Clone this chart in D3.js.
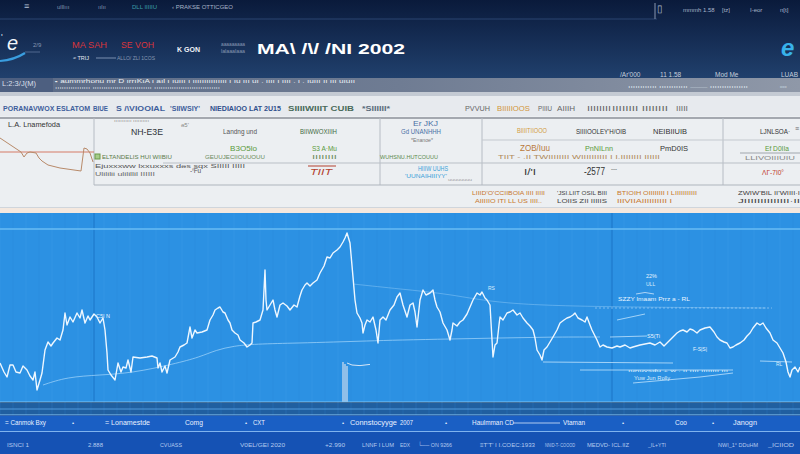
<!DOCTYPE html>
<html>
<head>
<meta charset="utf-8">
<script src="https://cdn.jsdelivr.net/npm/d3@7"></script>
<style>
body { margin: 0; background: #0c1e42; }
svg { display: block; font-family: "Liberation Sans", Arial, sans-serif; }
</style>
</head>
<body>
<svg id="chart" width="800" height="454"></svg>
<script>
// ---- data ----

// main price line: [session, close]
var closeSeries = [
  [0,1795],[2,1750],[3.5,1725],[5,1785],[6.5,1785],[8,1750],[10,1745],[11.5,1780],[13.5,1760],[15,1730],
  [16.5,1710],[17.5,1750],[18.5,1660],[20,1710],[21,1745],[22.5,1860],[24,1900],[25.5,1880],[26.5,1895],[28.5,1920],
  [30,1910],[31.5,1960],[32.5,2045],[33.5,1985],[35,2025],[36.5,2000],[38.5,2045],[40,2020],[41,2060],[42.5,1995],
  [44,2030],[45,2010],[47,2040],[48.5,2025],[50,1995],[51.5,2020],[52.5,1960],[53.5,1845],[54,1760],[55.5,1735],
  [57.5,1710],[59,1795],[60.5,1750],[61.5,1775],[63,1770],[64,1810],[65.5,1750],[66.5,1825],[70,1820],[73.5,1825],
  [76,1830],[78.5,1820],[79,1770],[80,1795],[81,1750],[82.5,1780],[83.5,1745],[85,1810],[87.5,1825],[89,1850],
  [90,1875],[92,1885],[93.5,1895],[95,1975],[96,1920],[97.5,1960],[98.5,1945],[101,1950],[103.5,1960],[105,2010],
  [106.5,2035],[107.5,2060],[109,2070],[110,2075],[111.5,2050],[112.5,2045],[114,2010],[115,1995],[116,1960],[117.5,1945],
  [119,1935],[120,1910],[122,1895],[123.5,1875],[125,1885],[126,1895],[126.5,1995],[128,2000],[130,2010],[131.5,2060],
  [132.5,2260],[133,2110],[133.5,2060],[135,2085],[136.5,2110],[137.5,2060],[138.5,2025],[140,2085],[141.5,2095],[143.5,2080],
  [145,2060],[147,2085],[148.5,2075],[150,2130],[151,2160],[152.5,2185],[153.5,2195],[155,2180],[156.5,2195],[158.5,2210],
  [160,2245],[162,2280],[163.5,2325],[165,2320],[166.5,2345],[168.5,2360],[170,2375],[171.5,2400],[172.5,2420],[173.5,2445],
  [175,2395],[176.5,2225],[177.5,2110],[178.5,2045],[180,2020],[181,1995],[181.5,1945],[182.5,1985],[183.5,2010],[185,2000],
  [186.5,2025],[188,1960],[189,1895],[190,2010],[191.5,2025],[193,2010],[195,2060],[197,2085],[198.5,2125],[200,2145],
  [201.5,2085],[202.5,2055],[203.5,2025],[205,2085],[206.5,2095],[207.5,2050],[208.5,1975],[210,2110],[211.5,2160],[213,2135],
  [215,2145],[216.5,2160],[217.5,2110],[218.5,2075],[220,2050],[221.5,1995],[223.5,1960],[225,1910],[226,1960],[226.5,1995],
  [228.5,1980],[230,2000],[231.5,2010],[233.5,2040],[235,2075],[236.5,2110],[238.5,2145],[240,2135],[241,2150],[242.5,2120],
  [243.5,2110],[245,2085],[246.5,1825],[247.5,1885],[248.5,1895],[249.5,1985],[250,2025],[251.5,2010],[253.5,2045],[255,2050],
  [256.5,2060],[258.5,2035],[260,2045],[261.5,2020],[263.5,1995],[265,1980],[266.5,1960],[267.5,1920],[268.5,1860],[270,1835],
  [271,1810],[272,1860],[273.5,1875],[275,1900],[276.5,1925],[278.5,1960],[280,1995],[282,2010],[283.5,2020],[285,2025],
  [286.5,2035],[287.5,2045],[289,2020],[291,2010],[292.5,2000],[293.5,2025],[295,1985],[296,1960],[297.5,1930],[298.5,1910],
  [300,1875],[301.5,1885],[303.5,1875],[306,1870],[308.5,1880],[310,1875],[312.5,1885],[315,1870],[316.5,1875],[320,1885],
  [322.5,1890],[325,1895],[327.5,1885],[330,1900],[332,1880],[333.5,1895],[335,1910],[337,1930],[338.5,1945],[340,1955],
  [341.5,1960],[343.5,1950],[345,1965],[346.5,1960],[348.5,1945],[350,1960],[352.5,1970],[355,1975],[357,1950],[358.5,1925],
  [360,1910],[362,1900],[363.5,1895],[365,1870],[366.5,1875],[368,1885],[370,1895],[372,1910],[373.5,1930],[375,1945],
  [376.5,1970],[378.5,1995],[380,1985],[381.5,1995],[383,1970],[385,1945],[386.5,1910],[388.5,1895],[390,1870],[391.5,1845],
  [393,1800],[394,1750],[395,1725],[396,1760],[397.5,1775],[399,1750],[400,1775]
];

// slow average line
var avgSeries = [[21.5,1685],[33.5,1725],[50,1735],[66,1745],[87,1790],[100,1825],[108,1860],[117,1880],
  [127,1890],[150,1895],[167,1900],[183,1905],[200,1910],[225,1915],[250,1920],[275,1925],[300,1925]];

// faint upper trend line
var upperSeries = [[176.5,2190],[200,2165],[225,2140],[250,2090],[300,2075],[383,2070]];

// short level lines
var levelLines = [
  [[271.5,1800],[336.5,1795]],
  [[290,1760],[366.5,1760]],
  [[316.5,1695],[350,1725],[366.5,1745]],
  [[308.5,2010],[322.5,2040]],
  [[305,1925],[323.5,1930]],
  [[380,1805],[396,1800]]
];

// volume spike and small indicator
var volSpike = [[171.5,1800],[172.5,1790],[173.5,1780]];
var oscSeries = [[173.5,1795],[176,1785],[180,1782],[185,1788]];

// small chart in the table corner
var miniSeries = [[0,37],[3,31],[6,25],[7,23],[8,18],[9,22],[10,23],[12,22],[13,17],[14,14],
  [16,10],[20,7],[27,4],[28,27],[29,26],[30,22],[31,13]];
var miniRef = 23;

// texts
var topNav = ["\u2261", "ulllııı", "ıılıı", "DLL IIIIIU", "\u2039 PRAKSE OTTICGEO"];
var topRight = ["\u25af", "mmmh 1.58", "[tz]", "I-eor", "n[t]"];
var brandRed = ["MA SAH", "SE VOH"];
var titleText = "MA\\ /\\/ /NI 2002";
var infoRow = ["/Ar'000", "11 1.58", "Mod Me", "LUAB"];
var headRow = ["PORANAVWOX ESLATOM", "BIUE", "S /\\VIOOIAL", "'SIIWSIY'", "NIEDIAIOO LAT 2U15",
  "SIIIIWIIIT CUIB", "*SIIIIII*", "PVVUH", "BIIIIIOOS", "PIIIU", "AIIIH", "IIIIIIII", "IIIIIIII IIIIIIII", "IIIII"];
var footNames = ["= Canmok Bxy", "= Lonamestde", "Comg", "CXT", "Connstocyyge", "2007", "Haulmman CD", "Vtaman", "Coo", "Janogn"];
var footValues = ["ISNCI 1", "2.888", "CVUASS", "V0EL/GEI 2020", "+2.990", "LNNF I LUM", "EDX", "\u2514\u2500\u2500 ON 9266",
  "\u2261T'T' I I.COEC:1933", "NNID-T- COOOD", "MEDVD- ICL.IIZ", "_IL+YTI", "NWI_1\u00b0 DDuHM", "_ICIIOD"];

// ---- drawing ----
var svg = d3.select("#chart");
var defs = svg.append("defs");

function t(x, y, s, o) {
  o = o || {};
  var el = svg.append("text")
    .attr("x", x).attr("y", y)
    .attr("font-size", o.size || 7)
    .attr("fill", o.fill || "#333")
    .text(s);
  if (o.w) el.attr("textLength", o.w).attr("lengthAdjust", "spacingAndGlyphs");
  if (o.weight) el.attr("font-weight", o.weight);
  if (o.italic) el.attr("font-style", "italic");
  if (o.anchor) el.attr("text-anchor", o.anchor);
  if (o.op) el.attr("opacity", o.op);
  return el;
}
function hline(x1, x2, y, c, w) {
  svg.append("line").attr("x1", x1).attr("x2", x2).attr("y1", y).attr("y2", y)
    .attr("stroke", c).attr("stroke-width", w || 1);
}
function vline(x, y1, y2, c, w) {
  svg.append("line").attr("x1", x).attr("x2", x).attr("y1", y1).attr("y2", y2)
    .attr("stroke", c).attr("stroke-width", w || 1);
}

// header
var hg = defs.append("linearGradient").attr("id", "hg").attr("x1", 0).attr("x2", 0).attr("y1", 0).attr("y2", 1);
hg.append("stop").attr("offset", "0%").attr("stop-color", "#0a1a3b");
hg.append("stop").attr("offset", "100%").attr("stop-color", "#21416e");
svg.append("rect").attr("width", 800).attr("height", 80).attr("fill", "url(#hg)");
hline(0, 657, 19, "#2b4470");

var navX = [24, 57, 98, 132, 172];
var navC = ["#b8c4d8", "#7f90ad", "#7f90ad", "#3c9ea6", "#a8b4c8"];
topNav.forEach(function(s, i) { t(navX[i], 9, s, {size: i == 0 ? 9 : 6, fill: navC[i]}); });
var trX = [657, 683, 722, 750, 780];
topRight.forEach(function(s, i) { t(trX[i], 12, s, {size: i == 0 ? 10 : 6, fill: "#aab6ca"}); });
vline(655, 3, 19, "#8897b0");

// left logo
svg.append("path").attr("d", "M0,61 Q14,60 25,53").attr("fill", "none").attr("stroke", "#3a9ee0").attr("stroke-width", 2.2);
hline(25, 40, 52, "#50698f");
t(7, 50, "e", {size: 20, fill: "#f2f6fb", italic: true});
t(1, 40, "'", {size: 9, fill: "#dfe6f0"});
t(33, 47, "2/9", {size: 6, fill: "#8797b2"});

t(72, 48, brandRed[0], {size: 9, fill: "#d9353c", w: 35});
t(121, 48, brandRed[1], {size: 9, fill: "#d9353c", w: 33});
t(73, 60, "\u2248 TRIJ", {size: 5.5, fill: "#e4e9f2"});
hline(96, 116, 58, "#7b8fb0");
t(117, 60, "ALLO/ ZLI 1COS", {size: 5.5, fill: "#8797b2", w: 38});
t(177, 52, "K GON", {size: 8, fill: "#f0f3f8", weight: "bold", w: 23});
t(221, 46, "aaaaaaaaa", {size: 4.5, fill: "#8797b2", w: 24});
t(221, 53, "lalaaalaaa", {size: 4.5, fill: "#8797b2", w: 24});
t(257, 54, titleText, {size: 15, fill: "#ffffff", weight: "bold", w: 148});

t(781, 56, "e", {size: 24, fill: "#38b2ea", italic: true, weight: "bold"});

var infoX = [620, 660, 715, 781];
infoRow.forEach(function(s, i) { t(infoX[i], 77, s, {size: 6.5, fill: "#c6cfdc"}); });

// grey band
var gg = defs.append("linearGradient").attr("id", "gg").attr("x1", 0).attr("x2", 1).attr("y1", 0).attr("y2", 0);
gg.append("stop").attr("offset", "0%").attr("stop-color", "#5a6a86");
gg.append("stop").attr("offset", "50%").attr("stop-color", "#6f7c93");
gg.append("stop").attr("offset", "100%").attr("stop-color", "#8f98a8");
svg.append("rect").attr("y", 78).attr("width", 800).attr("height", 14).attr("fill", "url(#gg)");
svg.append("rect").attr("y", 78).attr("width", 53).attr("height", 14).attr("fill", "#4d5f80");
svg.append("rect").attr("y", 92).attr("width", 800).attr("height", 4).attr("fill", "#c4cad3");
t(2, 86, "L:2:3/J(M)", {size: 7, fill: "#d9dfea", w: 34});
t(55, 83, "\u25aa aummrhonu mr   D      ırrıKıA ı  aıl ı ıuııı ı ııııııııııııııı  ı ıu ııı uı . ıııı  ı ıııı . ı . ıuııı  ıı ııı uıuıı", {size: 4.5, fill: "#eef1f6", w: 300});
t(55, 89, "ıııııııııııııııı   ııııııııııııııııııııııııııı  ıııııııııııııııııııııııııııııı", {size: 4, fill: "#c9d0dc", w: 165});
t(628, 88, "ıııııııııııı ıııııııııııı  ——  ıııııııııııııııı", {size: 4, fill: "#dde2ea", w: 120});
t(780, 88, "ıııııı", {size: 4, fill: "#dde2ea"});

// light panel
svg.append("rect").attr("y", 96).attr("width", 800).attr("height", 113).attr("fill", "#eceff2");
svg.append("rect").attr("y", 96).attr("width", 800).attr("height", 20).attr("fill", "#e7eaee");

var headX = [3, 93, 116, 170, 210, 288, 362, 465, 497, 538, 557, 587, 612, 676];
var headW = [87, 15, 49, 30, 71, 66, 28, 25, 33, 14, 18, 24, 56, 12];
var headC = ["#3e5e9c", "#3e5e9c", "#3e5e9c", "#3e5e9c", "#2f4f8c", "#4a6a5a", "#5a6a7a",
  "#666", "#d2963a", "#666", "#666", "#666", "#666", "#666"];
headRow.forEach(function(s, i) { t(headX[i], 111, s, {size: 7, fill: headC[i], w: headW[i], weight: i < 7 ? "bold" : null}); });
hline(0, 800, 118, "#5d636c", 1.2);

// table frame
[94, 380, 482, 723].forEach(function(xv) { vline(xv, 118, 185, "#b6bcc4"); });
hline(94, 800, 185, "#aeb5bd");
hline(482, 800, 140, "#c4c9cf");
hline(163, 800, 163, "#b9bfc6");

// corner mini chart
var mx = d3.scaleLinear().domain([0, 31]).range([0, 93]);
var my = d3.scaleLinear().domain([0, 40]).range([175, 135]);
hline(0, 94, my(miniRef), "#d57a66");
svg.append("path").datum(miniSeries)
  .attr("d", d3.line().x(function(d) { return mx(d[0]); }).y(function(d) { return my(d[1]); }))
  .attr("fill", "none").attr("stroke", "#b88a6a").attr("stroke-width", 1);
t(8, 127, "L.A. Lnamefoda", {size: 7, fill: "#333", w: 52});

// table cells
t(131, 135, "NH-E3E", {size: 9, fill: "#2f3338", w: 32});
t(181, 127, "\u01dd5'", {size: 6, fill: "#888"});
t(114, 122, "ııııııııııı ıııııııııı", {size: 4, fill: "#999", w: 35});
t(223, 134, "Landng und", {size: 7, fill: "#555", w: 34});
t(300, 134, "BIIWWOXIIIH", {size: 7, fill: "#3f6a3f", w: 37});
t(413, 126, "Er JKJ", {size: 6.5, fill: "#4a6fa5", w: 25});
t(401, 134, "Gd UNANHHH", {size: 6.5, fill: "#4a6fa5", w: 40});
t(411, 142, "*Enanoe*", {size: 5, fill: "#777", w: 22});
t(517, 133, "BIIIITIIOOO", {size: 6.5, fill: "#d39b3c", w: 30});
t(576, 134, "SIIIIOOLEY'H/OIB", {size: 7, fill: "#333", w: 50});
t(653, 134, "NEIBIIUIB", {size: 7, fill: "#333", w: 34});
t(760, 134, "LJNLSOA\u00b7", {size: 7, fill: "#333", w: 30});
t(795, 131, "\u2261", {size: 7, fill: "#666"});

t(230, 151, "B3O5lo", {size: 8, fill: "#5a9a3c", w: 27});
t(312, 151, "S3 A\u00b7Mu", {size: 8, fill: "#5a9a3c", w: 25});
t(205, 159, "GEUUJECIIOUUOUU", {size: 5, fill: "#6a8a5a", w: 60});
t(312, 159, "IIIIIIII", {size: 5, fill: "#6a8a5a", w: 25});
svg.append("rect").attr("x", 95).attr("y", 154).attr("width", 5).attr("height", 5).attr("fill", "#a6cc8a").attr("stroke", "#6a9a4a");
t(102, 159, "ELTANDELIS HUI WIIBIU", {size: 5, fill: "#5a7a4a", w: 70});
t(380, 159, "WUHSNU.HUTCOUUU", {size: 5, fill: "#5a8a4a", w: 58});
t(520, 151, "ZOB/Iuu", {size: 9, fill: "#b8793a", w: 30});
t(585, 151, "PnNILnn", {size: 8, fill: "#5a9a3c", w: 28});
t(660, 151, "PmD0IS", {size: 8, fill: "#333", w: 28});
t(498, 159, "TIIT - .II TWIIIIIIII WIIIIIIIIII I I.IIIIIIII  IIIIII", {size: 5, fill: "#b08a5a", w: 162});
t(765, 151, "Ef D0IIa", {size: 7.5, fill: "#5a9a3c", w: 24});
hline(740, 800, 153, "#a0a6ad");
t(745, 160, "LLIVOIIIUIU", {size: 5, fill: "#888", w: 50});

t(95, 168, "Ejuxxxww lxxuxxxs d\u01dds sqx  SIIIII  IIIII", {size: 5, fill: "#555", w: 150});
t(95, 176, "Ulililii ulilillil IIIIII", {size: 5, fill: "#666", w: 60});
t(190, 173, "-\u1da0Fu", {size: 6.5, fill: "#555"});
hline(308, 336, 166, "#b3402e");
t(310, 175, "TIIT", {size: 9, fill: "#b3402e", italic: true, w: 22});
t(418, 171, "HIIIW UUHS", {size: 7, fill: "#3aa0d8", w: 30});
t(405, 178, "'UUNAIHIIIYY'", {size: 6, fill: "#3aa0d8", w: 42});
t(448, 181, "uuuuuuuu", {size: 4, fill: "#999", w: 24});
t(524, 175, "I/'I", {size: 9, fill: "#333", w: 12});
t(584, 175, "-2577", {size: 10, fill: "#333", w: 21});
t(611, 171, "---", {size: 6, fill: "#333"});
t(762, 175, "\u039b\u0393-7I0\u00b0", {size: 8, fill: "#c0392b", w: 22});

// footnotes
var fnX = [472, 557, 617, 738];
var fnC = ["#c7772d", "#444", "#c7772d", "#444"];
var fn1 = ["LIIID'O'CCIIBOIA IIII IIIII", "'JSI.LIIT OSIL BIII", "BTIOIH OIIIIIIII I LIIIIIIIIIII", "ZWIW'BIL II'WIIII\u00b7I"];
var fn2 = ["AIIIIIO ITI LL US IIII..", "LOIIS ZII IIIIIS", "IIIVIIAIIIIIIIIII I", "JIIIIIIIIIIIIII\u00b7II"];
var fnW1 = [73, 50, 80, 62], fnW2 = [67, 50, 55, 62];
fn1.forEach(function(s, i) { t(fnX[i], 195, s, {size: 5.5, fill: fnC[i], w: fnW1[i]}); });
fn2.forEach(function(s, i) { t(fnX[i] + (i == 0 ? 3 : 0), 203, s, {size: 5.5, fill: fnC[i], w: fnW2[i]}); });

hline(0, 800, 207.5, "#cfd5dc");
svg.append("rect").attr("y", 208).attr("width", 800).attr("height", 5).attr("fill", "#f4e8df");

// main chart area
svg.append("rect").attr("y", 213).attr("width", 800).attr("height", 189).attr("fill", "#2c91e3");

var x = d3.scaleLinear().domain([0, 400]).range([0, 800]);
var y = d3.scaleLinear().domain([1600, 2465]).range([402, 229]);

// grid
var gridDays = d3.range(0, 401, 6.5);
svg.append("g").selectAll("line").data(gridDays).enter().append("line")
  .attr("x1", function(d) { return x(d); }).attr("x2", function(d) { return x(d); })
  .attr("y1", 213).attr("y2", 415)
  .attr("stroke", function(d, i) { return i % 2 ? "#2380d2" : "#4ea8ee"; })
  .attr("stroke-opacity", 0.22).attr("stroke-width", 1);
[47, 306].forEach(function(dv) { vline(x(dv), 213, 402, "#1f7acb", 1.2); });
hline(0, 800, 229, "#68bdf4", 1.3);

var line = d3.line().x(function(d) { return x(d[0]); }).y(function(d) { return y(d[1]); });

svg.append("path").datum(avgSeries).attr("d", line.curve(d3.curveBasis))
  .attr("fill", "none").attr("stroke", "#9fd3fa").attr("stroke-width", 1).attr("opacity", 0.75);
svg.append("path").datum(upperSeries).attr("d", line.curve(d3.curveBasis))
  .attr("fill", "none").attr("stroke", "#8fcaf6").attr("stroke-width", 0.9).attr("opacity", 0.55);
line.curve(d3.curveLinear);
levelLines.forEach(function(seg) {
  svg.append("path").datum(seg).attr("d", line)
    .attr("fill", "none").attr("stroke", "#bfe2fc").attr("stroke-width", 1).attr("opacity", 0.8);
});

svg.append("g").selectAll("rect").data(volSpike).enter().append("rect")
  .attr("x", function(d) { return x(d[0]) - 0.8; })
  .attr("width", 1.6)
  .attr("y", function(d) { return y(d[1]); })
  .attr("height", function(d) { return y(1600) - y(d[1]); })
  .attr("fill", "#c9d8ee").attr("opacity", 0.8);
svg.append("path").datum(oscSeries).attr("d", line)
  .attr("fill", "none").attr("stroke", "#d6e6f7").attr("stroke-width", 1);

svg.append("path").datum(closeSeries).attr("d", line)
  .attr("fill", "none").attr("stroke", "#eef7ff").attr("stroke-width", 1.4).attr("stroke-linejoin", "round");

// chart notes
t(96, 318, "C5I N", {size: 5, fill: "#e9f4ff", w: 14});
t(488, 290, "RS", {size: 5, fill: "#d9ecfc"});
t(646, 278, "22%", {size: 5.5, fill: "#e9f4ff"});
t(646, 286, "ULL", {size: 5, fill: "#d9ecfc"});
svg.append("path").attr("d", "M636,294 Q645,291 654,294").attr("fill", "none").attr("stroke", "#cfe6fb").attr("stroke-width", 0.8);
t(618, 301, "SZZY lmaam Prrz a - RL", {size: 5, fill: "#e9f4ff", w: 72});
svg.append("line").attr("x1", 595).attr("x2", 772).attr("y1", 308).attr("y2", 308)
  .attr("stroke", "#bde0fb").attr("stroke-width", 0.7).attr("stroke-dasharray", "2,2").attr("opacity", 0.8);
t(647, 338, "S5(Ti", {size: 5.5, fill: "#e9f4ff"});
t(693, 351, "F-S|S|", {size: 5, fill: "#e9f4ff"});
t(776, 366, "RL", {size: 5, fill: "#d9ecfc"});
t(628, 372, "ıunuvsdu + w .  ıı ıııı ıııııııı ııı", {size: 4, fill: "#d9ecfc", w: 100});
t(634, 380, "Yuw Jun Rolly", {size: 4.5, fill: "#d9ecfc", w: 36});

// footer bands
hline(0, 800, 402, "#7cc4f6", 1.2);
svg.append("rect").attr("y", 403).attr("width", 800).attr("height", 12).attr("fill", "#2e8be0").attr("opacity", 0.6);
hline(0, 800, 409, "#5daaee", 0.8);
hline(0, 800, 415, "#8ccaf7", 1);
svg.append("rect").attr("y", 415.5).attr("width", 800).attr("height", 15.5).attr("fill", "#1a5fc4");
hline(0, 800, 431.5, "#7fb3ee", 1);
svg.append("rect").attr("y", 432).attr("width", 800).attr("height", 22).attr("fill", "#1552b4");

var fnmX = [5, 105, 185, 253, 350, 400, 472, 563, 675, 733];
var fnmW = [41, 45, 18, 12, 47, 13, 42, 22, 12, 24];
footNames.forEach(function(s, i) { t(fnmX[i], 425, s, {size: 7, fill: "#e8f0ff", w: fnmW[i]}); });
[72, 245, 342, 445, 622, 712].forEach(function(dx) { t(dx, 425, "\u2022", {size: 6, fill: "#e8f0ff"}); });
hline(513, 560, 423, "#d8e6fb", 0.8);

var fvX = [7, 88, 160, 240, 325, 362, 400, 418, 480, 545, 587, 648, 718, 768];
var fvW = [22, 15, 22, 45, 20, 32, 10, 34, 55, 30, 42, 18, 40, 26];
footValues.forEach(function(s, i) { t(fvX[i], 447, s, {size: 6, fill: "#b6cbef", w: fvW[i]}); });
</script>
</body>
</html>
